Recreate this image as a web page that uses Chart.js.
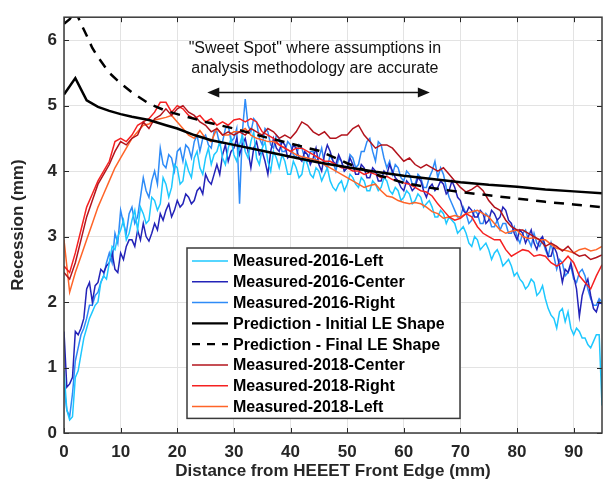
<!DOCTYPE html>
<html>
<head>
<meta charset="utf-8">
<script src="https://cdn.jsdelivr.net/npm/chart.js@4.4.1/dist/chart.umd.min.js"></script>
<style>
  html, body { margin: 0; padding: 0; background: #fff; }
</style>
</head>
<body>
<canvas id="recessionChart" width="609" height="488"></canvas>
<script>
// distance from front edge (mm): 2016 scans every 0.5 mm, 2018 scans every 1 mm
const distance2016 = Array.from({ length: 191 }, (_, i) => i / 2);
const distance2018 = Array.from({ length: 96 }, (_, i) => i);

// measured recession (mm), 2016 sample
const left2016 = [
  0.95, 0.35, 0.2, 0.25, 0.85, 0.95, 1.2, 1.45, 1.6, 1.75, 1.85, 1.95, 2.0, 2.3, 2.4, 2.35, 2.6, 2.85, 2.8, 3.0,
  3.1, 3.25, 2.95, 3.05, 3.25, 3.4, 3.1, 3.45, 3.35, 3.2, 3.25, 3.6, 3.55, 3.4, 3.5, 3.9, 3.8, 3.6, 3.75, 4.1,
  4.05, 3.8, 3.85, 4.15, 4.0, 3.9, 4.2, 4.3, 4.05, 3.95, 4.2, 4.35, 4.1, 4.25, 4.3, 4.45, 4.2, 4.1, 4.35, 4.5,
  4.25, 4.15, 4.4, 4.55, 4.3, 4.2, 4.45, 4.6, 4.2, 4.1, 4.35, 4.45, 4.15, 4.0, 4.3, 4.2, 4.05, 4.25, 4.15, 3.95,
  3.95, 4.15, 4.05, 3.9, 3.95, 4.2, 4.1, 3.95, 3.9, 4.05, 4.0, 3.85, 3.95, 4.05, 3.85, 3.75, 3.7, 3.8, 3.85, 3.7,
  3.8, 3.95, 3.9, 3.8, 3.75, 3.9, 3.85, 3.7, 3.7, 3.85, 3.8, 3.7, 3.75, 3.9, 3.85, 3.7, 3.65, 3.75, 3.7, 3.55,
  3.6, 3.7, 3.65, 3.5, 3.55, 3.65, 3.6, 3.45, 3.5, 3.55, 3.45, 3.3, 3.3, 3.4, 3.35, 3.2, 3.3, 3.25, 3.2, 3.05,
  3.1, 3.15, 3.05, 2.9, 2.85, 3.0, 2.95, 2.8, 2.85, 2.9, 2.8, 2.65, 2.75, 2.8, 2.7, 2.55, 2.6, 2.65, 2.55, 2.4,
  2.45, 2.35, 2.3, 2.2, 2.25, 2.35, 2.3, 2.1, 2.15, 2.25, 2.05, 1.9, 1.8, 1.75, 1.6, 1.85, 1.9, 1.7, 1.85, 1.6,
  1.5, 1.6, 1.55, 1.45, 1.45, 1.35, 1.3, 1.4, 1.5, 1.5, 0.42
];
const center2016 = [
  1.55, 0.7, 0.75, 0.85, 1.55, 1.5, 1.6, 1.75, 2.2, 2.3, 2.0, 2.25, 2.3, 2.5, 2.45, 2.55, 2.6, 2.75, 2.5, 2.45,
  2.75, 2.65, 2.85, 2.95, 2.95, 2.85, 3.1, 2.95, 3.2, 3.0, 2.93, 3.05, 3.2, 3.1, 3.35, 3.25, 3.4, 3.5, 3.3, 3.4,
  3.55, 3.45, 3.5, 3.65, 3.6, 3.5, 3.55, 3.7, 3.75, 3.65, 3.95, 3.85, 3.8, 3.95, 4.1, 3.95, 4.25, 4.4, 4.15, 4.3,
  4.35, 4.5, 4.25, 4.4, 4.5, 4.3, 4.05, 4.35, 4.45, 4.25, 4.3, 4.15, 3.95, 4.3, 4.5, 4.35, 4.3, 4.45, 4.4, 4.2,
  4.25, 4.4, 4.35, 4.2, 4.15, 4.3, 4.25, 4.1, 4.2, 4.35, 4.1, 4.0, 4.25, 4.4, 4.3, 4.15, 4.1, 4.25, 4.15, 4.0,
  4.05, 4.2, 4.1, 3.95, 3.95, 4.1, 4.05, 3.9, 3.9, 4.05, 4.0, 3.85, 3.85, 4.0, 3.95, 4.1, 4.0, 3.9, 3.85, 3.75,
  3.7, 3.85, 3.8, 3.7, 3.75, 3.9, 3.85, 3.7, 3.6, 3.75, 3.8, 3.7, 3.75, 3.85, 3.8, 3.65, 3.7, 3.85, 3.75, 3.6,
  3.55, 3.4, 3.35, 3.45, 3.4, 3.3, 3.3, 3.4, 3.35, 3.2, 3.25, 3.4, 3.35, 3.25, 3.3, 3.45, 3.4, 3.25, 3.2, 3.05,
  2.95, 3.1, 3.05, 2.9, 3.0, 3.1, 2.9, 2.8, 2.95, 3.0, 2.85, 2.7, 2.7, 2.85, 2.75, 2.55, 2.3, 2.5, 2.45, 2.6,
  2.4, 2.2, 1.78, 2.1, 2.25, 2.35, 2.1, 1.9, 1.85, 2.0, 1.97
];
const right2016 = [
  0.7, 0.35, 0.25, 0.6, 1.1, 1.3, 1.5, 1.6, 1.75, 1.95, 1.95, 2.1, 2.15, 2.3, 2.4, 2.6, 2.75, 2.6, 3.05, 2.9,
  3.4, 3.2, 3.05, 3.35, 3.45, 3.2, 3.3, 3.6, 3.9, 3.7, 3.6, 3.85, 4.0, 3.8, 4.35, 4.1, 4.05, 4.25, 4.2, 4.0,
  4.3, 4.35, 4.15, 4.4, 4.35, 4.2, 4.45, 4.55, 4.3, 4.5, 4.55, 4.4, 4.35, 4.6, 4.6, 4.4, 4.45, 4.65, 4.7, 4.45,
  4.5, 4.65, 3.5, 4.6, 5.1, 4.7, 4.6, 4.8, 4.75, 4.5, 4.4, 4.65, 4.6, 4.4, 4.35, 4.55, 4.5, 4.3, 4.3, 4.45,
  4.4, 4.25, 4.2, 4.4, 4.35, 4.2, 4.15, 4.3, 4.3, 4.15, 4.2, 4.35, 4.1, 4.05, 4.25, 4.15, 4.0, 4.2, 4.15, 4.0,
  4.05, 4.25, 4.2, 4.05, 4.1, 4.3, 4.3, 4.45, 4.5, 4.3, 4.15, 4.45, 4.4, 4.2, 4.05, 4.15, 3.95, 4.1, 4.05, 3.9,
  3.85, 4.0, 3.95, 3.8, 3.8, 3.95, 3.9, 3.75, 3.75, 3.9, 4.0, 4.15, 3.9, 4.05, 3.95, 3.75, 3.6, 3.5, 3.4, 3.3,
  3.3, 3.45, 3.35, 3.2, 3.25, 3.4, 3.35, 3.2, 3.2, 3.35, 3.3, 3.15, 3.15, 3.25, 3.1, 3.2, 3.2, 3.05, 3.05, 3.15,
  3.0, 2.9, 3.05, 3.1, 2.95, 2.85, 3.05, 2.9, 2.85, 2.95, 2.8, 2.7, 2.9, 2.7, 2.5, 2.65, 2.6, 2.4, 2.45, 2.55,
  2.35, 2.3, 2.45, 2.5, 2.4, 2.2, 2.05, 1.95, 1.95, 2.05, 2.0
];

// measured recession (mm), 2018 sample
const center2018 = [
  2.45, 2.35, 2.6, 2.95, 3.3, 3.55, 3.8, 3.95, 4.1, 4.3,
  4.45, 4.4, 4.5, 4.55, 4.75, 4.65, 4.8, 4.85, 4.95, 4.85,
  4.95, 5.0, 4.9, 4.85, 4.75, 4.7, 4.6, 4.65, 4.55, 4.6,
  4.55, 4.6, 4.55, 4.65, 4.6, 4.55, 4.65, 4.6, 4.5, 4.55,
  4.5, 4.6, 4.75, 4.7, 4.6, 4.55, 4.6, 4.5, 4.5, 4.55,
  4.55, 4.65, 4.7, 4.55, 4.45, 4.35, 4.4, 4.4, 4.35, 4.25,
  4.15, 4.2, 4.1, 4.05, 4.1, 4.05, 4.0, 4.05, 3.95, 3.85,
  3.75, 3.68, 3.72, 3.78, 3.7, 3.55, 3.45, 3.4, 3.25, 3.15,
  3.1, 3.1, 3.05, 3.0, 2.95, 2.85, 2.9, 2.85, 2.78, 2.85,
  2.75, 2.7, 2.72, 2.65, 2.68, 2.72
];
const right2018 = [
  2.55, 2.45, 2.75, 3.1, 3.45, 3.65, 3.85, 4.0, 4.15, 4.45,
  4.5, 4.45, 4.55, 4.7, 4.75, 4.8, 4.9, 5.05, 5.05, 4.9,
  5.0, 4.95, 4.85, 4.8, 4.85, 4.75, 4.8, 4.7, 4.75, 4.7,
  4.78, 4.8, 4.75, 4.8, 4.75, 4.6, 4.55, 4.5, 4.4, 4.35,
  4.3, 4.35, 4.35, 4.3, 4.25, 4.2, 4.15, 4.15, 4.1, 4.05,
  4.05, 4.0, 4.0, 3.95, 3.98, 3.95, 3.9, 3.92, 3.87, 3.85,
  3.82, 3.8, 3.75, 3.7, 3.68, 3.62, 3.5, 3.4, 3.3, 3.25,
  3.28, 3.35, 3.3, 3.15, 3.05, 3.0, 2.95, 2.95, 2.8, 2.7,
  2.75, 2.8, 2.78, 2.7, 2.72, 2.7, 2.6, 2.55, 2.6, 2.7,
  2.6, 2.4, 2.3, 2.2, 2.4, 2.57
];
const left2018 = [
  2.95, 2.15, 2.45, 2.7, 2.95, 3.2, 3.45, 3.65, 3.85, 4.05,
  4.2, 4.35, 4.5, 4.6, 4.7, 4.72, 4.78, 4.8, 4.82, 4.85,
  4.75, 4.65, 4.55, 4.5, 4.62, 4.5, 4.45, 4.65, 4.55, 4.55,
  4.6, 4.6, 4.65, 4.55, 4.5, 4.48, 4.45, 4.45, 4.4, 4.35,
  4.3, 4.25, 4.22, 4.2, 4.18, 4.15, 4.1, 4.05, 4.0, 3.95,
  3.9, 3.85, 3.8, 3.75, 3.78, 3.8, 3.7, 3.62, 3.6, 3.55,
  3.52, 3.5, 3.52, 3.5, 3.45, 3.38, 3.35, 3.28, 3.3, 3.32,
  3.3, 3.35, 3.38, 3.4, 3.35, 3.3, 3.2, 3.1, 3.05, 3.08,
  3.1, 3.0, 2.97, 2.98, 2.95, 2.95, 2.88, 2.82, 2.8, 2.78,
  2.75, 2.8, 2.82, 2.78, 2.8, 2.85
];

// model predictions
const predInitialX = [0, 2, 4, 6, 8, 10, 12, 15, 18, 20, 23, 26, 30, 35, 40, 45, 50, 55, 60, 65, 70, 75, 80, 85, 90, 95];
const predInitialY = [5.17, 5.42, 5.08, 4.98, 4.92, 4.87, 4.83, 4.78, 4.7, 4.65, 4.55, 4.47, 4.4, 4.31, 4.22, 4.13, 4.06, 3.99, 3.93, 3.88, 3.83, 3.79, 3.76, 3.72, 3.69, 3.66];
const predFinalX = [0, 1, 2, 3, 4, 5, 6, 8, 10, 12, 15, 18, 20, 25, 30, 35, 40, 45, 50, 55, 60, 65, 70, 75, 80, 85, 90, 95];
const predFinalY = [6.25, 6.32, 6.45, 6.25, 6.07, 5.88, 5.74, 5.5, 5.34, 5.2, 5.03, 4.92, 4.87, 4.75, 4.65, 4.53, 4.42, 4.31, 4.12, 3.95, 3.82, 3.74, 3.68, 3.63, 3.58, 3.53, 3.49, 3.45];

const xTicks = [0, 10, 20, 30, 40, 50, 60, 70, 80, 90];
const yTicks = [0, 1, 2, 3, 4, 5, 6];

const FONT = "'Liberation Sans', Arial, Helvetica, sans-serif";
const INK = "#262626";

const toPoints = (xs, ys) => xs.map((x, i) => ({ x, y: ys[i] }));

function measured(label, xs, ys, color, order) {
  return {
    label,
    data: toPoints(xs, ys),
    borderColor: color,
    backgroundColor: color,
    borderWidth: 1.5,
    pointRadius: 0,
    tension: 0,
    order
  };
}

// box around the axes with inward ticks on every side
const frame = {
  id: "frame",
  afterDatasetsDraw(chart) {
    const { ctx, chartArea: a, scales } = chart;
    const len = 5;
    ctx.save();
    ctx.strokeStyle = INK;
    ctx.lineWidth = 1;
    ctx.beginPath();
    xTicks.forEach(v => {
      const px = Math.round(scales.x.getPixelForValue(v)) + 0.5;
      ctx.moveTo(px, a.bottom); ctx.lineTo(px, a.bottom - len);
      ctx.moveTo(px, a.top); ctx.lineTo(px, a.top + len);
    });
    yTicks.forEach(v => {
      const py = Math.round(scales.y.getPixelForValue(v)) + 0.5;
      ctx.moveTo(a.left, py); ctx.lineTo(a.left + len, py);
      ctx.moveTo(a.right, py); ctx.lineTo(a.right - len, py);
    });
    ctx.stroke();
    ctx.strokeStyle = "#3a3a3a";
    ctx.lineWidth = 1.5;
    ctx.strokeRect(a.left, a.top, a.right - a.left, a.bottom - a.top);
    ctx.restore();
  }
};

// "sweet spot" note with a double-headed arrow
const sweetSpot = {
  id: "sweetSpot",
  afterDatasetsDraw(chart) {
    const { ctx, scales } = chart;
    const x0 = scales.x.getPixelForValue(25.3);
    const x1 = scales.x.getPixelForValue(64.6);
    const y = scales.y.getPixelForValue(5.2);
    const cx = scales.x.getPixelForValue(44.3);
    ctx.save();
    ctx.fillStyle = "#111";
    ctx.strokeStyle = "#111";
    ctx.font = "16px " + FONT;
    ctx.textAlign = "center";
    ctx.textBaseline = "middle";
    ctx.fillText("\"Sweet Spot\" where assumptions in", cx, scales.y.getPixelForValue(5.87));
    ctx.fillText("analysis methodology are accurate", cx, scales.y.getPixelForValue(5.57));
    ctx.lineWidth = 1.5;
    ctx.beginPath();
    ctx.moveTo(x0 + 10, y); ctx.lineTo(x1 - 10, y);
    ctx.stroke();
    ctx.beginPath();
    ctx.moveTo(x0, y); ctx.lineTo(x0 + 12, y - 5); ctx.lineTo(x0 + 12, y + 5); ctx.closePath();
    ctx.moveTo(x1, y); ctx.lineTo(x1 - 12, y - 5); ctx.lineTo(x1 - 12, y + 5); ctx.closePath();
    ctx.fill();
    ctx.restore();
  }
};

// legend box inside the lower middle of the plot
const boxLegend = {
  id: "boxLegend",
  afterDraw(chart) {
    const { ctx } = chart;
    const sets = chart.data.datasets;
    const left = 187, top = 248, width = 273, rowH = 20.8;
    const height = sets.length * rowH + 4;
    ctx.save();
    ctx.fillStyle = "#fff";
    ctx.fillRect(left, top, width, height);
    ctx.strokeStyle = "#3a3a3a";
    ctx.lineWidth = 1.5;
    ctx.strokeRect(left, top, width, height);
    ctx.font = "bold 16px " + FONT;
    ctx.textBaseline = "middle";
    ctx.textAlign = "left";
    sets.forEach((ds, i) => {
      const y = top + 13 + i * rowH;
      ctx.strokeStyle = ds.borderColor;
      ctx.lineWidth = Math.min(ds.borderWidth, 2.2);
      ctx.setLineDash(ds.borderDash ? [8, 7] : []);
      ctx.beginPath();
      ctx.moveTo(left + 5, y); ctx.lineTo(left + 41, y);
      ctx.stroke();
      ctx.setLineDash([]);
      ctx.fillStyle = "#000";
      ctx.fillText(ds.label, left + 46, y + 1);
    });
    ctx.restore();
  }
};

const useTicks = list => scale => {
  scale.ticks = list.map(v => ({ value: v }));
};

new Chart(document.getElementById("recessionChart").getContext("2d"), {
  type: "line",
  data: {
    datasets: [
      measured("Measured-2016-Left", distance2016, left2016, "#1ec8ff", 5),
      measured("Measured-2016-Center", distance2016, center2016, "#2323b8", 6),
      measured("Measured-2016-Right", distance2016, right2016, "#2e8bf7", 7),
      {
        label: "Prediction - Initial LE Shape",
        data: toPoints(predInitialX, predInitialY),
        borderColor: "#000", borderWidth: 2.5, pointRadius: 0, tension: 0, order: 0
      },
      {
        label: "Prediction - Final LE Shape",
        data: toPoints(predFinalX, predFinalY),
        borderColor: "#000", borderWidth: 2.5, borderDash: [10, 8], pointRadius: 0, tension: 0, order: 1
      },
      measured("Measured-2018-Center", distance2018, center2018, "#b3141d", 2),
      measured("Measured-2018-Right", distance2018, right2018, "#f52121", 3),
      measured("Measured-2018-Left", distance2018, left2018, "#ff6428", 4)
    ]
  },
  options: {
    responsive: false,
    animation: false,
    layout: { padding: { top: 10, right: 7, left: 0, bottom: 0 } },
    plugins: { legend: { display: false }, tooltip: { enabled: false } },
    scales: {
      x: {
        type: "linear",
        min: 0, max: 95,
        afterBuildTicks: useTicks(xTicks),
        afterFit: s => { s.height = 55; },
        grid: { color: "#e3e3e3", drawTicks: false },
        border: { display: false },
        ticks: { padding: 9, color: INK, font: { family: FONT, size: 17, weight: "bold" } },
        title: {
          display: true, text: "Distance from HEEET Front Edge (mm)", color: INK,
          padding: { top: 0, bottom: 6 },
          font: { family: FONT, size: 17, weight: "bold" }
        }
      },
      y: {
        min: 0, max: 6.35,
        afterBuildTicks: useTicks(yTicks),
        afterFit: s => { s.width = 64; },
        grid: { color: "#e3e3e3", drawTicks: false },
        border: { display: false },
        ticks: { padding: 7, color: INK, font: { family: FONT, size: 17, weight: "bold" } },
        title: {
          display: true, text: "Recession (mm)", color: INK,
          padding: { top: 8, bottom: 0 },
          font: { family: FONT, size: 17, weight: "bold" }
        }
      }
    }
  },
  plugins: [frame, sweetSpot, boxLegend]
});
</script>
</body>
</html>
